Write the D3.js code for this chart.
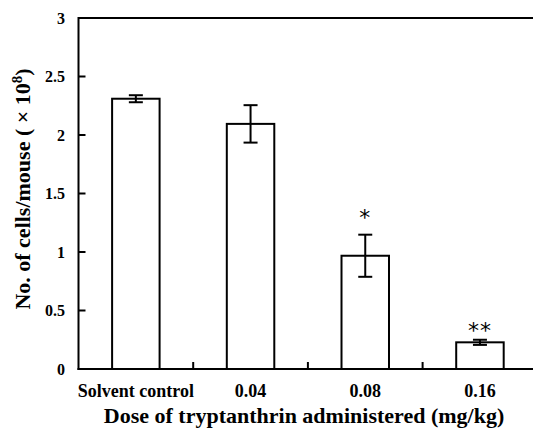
<!DOCTYPE html>
<html><head><meta charset="utf-8">
<script src="https://cdn.jsdelivr.net/npm/d3@7"></script>
<style>body{margin:0;background:#fff}svg{display:block}</style>
</head><body>
<svg id="c" width="533" height="430"></svg>
<script>
const categories = ["Solvent control", "0.04", "0.08", "0.16"];
const values = [2.31, 2.095, 0.968, 0.228];
const errors = [0.03, 0.16, 0.18, 0.022];
const marks = ["", "", "*", "**"];
const markLevels = [null, null, 1.35, 0.38];
const yTicks = [0, 0.5, 1, 1.5, 2, 2.5, 3];
const yTickLabels = ["0", "0.5", "1", "1.5", "2", "2.5", "3"];

const svg = d3.select("#c");
const L = 78.5, R = 537.3, T = 18, B = 369;
const x = d3.scaleBand().domain(categories).range([L, R]).padding(0);
const y = d3.scaleLinear().domain([0, 3]).range([B, T]);
const bw = x.bandwidth() * 0.414;
const font = "'Liberation Serif','Times New Roman',serif";

// frame
svg.append("line").attr("x1", L).attr("x2", 540).attr("y1", T).attr("y2", T).attr("stroke", "#000").attr("stroke-width", 2);
svg.append("line").attr("x1", L).attr("x2", L).attr("y1", T - 1).attr("y2", B + 1).attr("stroke", "#000").attr("stroke-width", 2);
svg.append("line").attr("x1", L - 1).attr("x2", 540).attr("y1", B).attr("y2", B).attr("stroke", "#000").attr("stroke-width", 2);

// y ticks
const yg = svg.append("g");
yTicks.forEach((t, i) => {
  if (t > 0 && t < 3) yg.append("line").attr("x1", L).attr("x2", L + 7).attr("y1", y(t)).attr("y2", y(t)).attr("stroke", "#000").attr("stroke-width", 2);
  yg.append("text").attr("x", 65).attr("y", y(t)).attr("dy", "0.35em").attr("text-anchor", "end")
    .attr("font-family", font).attr("font-weight", "bold").attr("font-size", 16).text(yTickLabels[i]);
});

// x ticks between categories
categories.slice(1).forEach(c => {
  svg.append("line").attr("x1", x(c)).attr("x2", x(c)).attr("y1", B).attr("y2", B - 7).attr("stroke", "#000").attr("stroke-width", 2);
});

// bars
categories.forEach((c, i) => {
  const cx = x(c) + x.bandwidth() / 2;
  svg.append("rect").attr("x", cx - bw / 2).attr("y", y(values[i])).attr("width", bw).attr("height", B - y(values[i]))
    .attr("fill", "#fff").attr("stroke", "#000").attr("stroke-width", 2);
  const hi = y(values[i] + errors[i]), lo = y(values[i] - errors[i]);
  svg.append("line").attr("x1", cx).attr("x2", cx).attr("y1", hi).attr("y2", lo).attr("stroke", "#000").attr("stroke-width", 2);
  [hi, lo].forEach(v => svg.append("line").attr("x1", cx - 7).attr("x2", cx + 7).attr("y1", v).attr("y2", v).attr("stroke", "#000").attr("stroke-width", 2));
  if (marks[i]) svg.append("text").attr("x", cx).attr("y", y(markLevels[i])).attr("dy", "0.62em").attr("text-anchor", "middle")
    .attr("font-family", "'DejaVu Sans',sans-serif").attr("font-size", 22).attr("letter-spacing", 1).text(marks[i]);
  svg.append("text").attr("x", cx).attr("y", 397).attr("text-anchor", "middle")
    .attr("font-family", font).attr("font-weight", "bold").attr("font-size", 18).text(c);
});

// axis titles
svg.append("text").attr("x", 304).attr("y", 423).attr("text-anchor", "middle")
  .attr("font-family", font).attr("font-weight", "bold").attr("font-size", 22).text("Dose of tryptanthrin administered (mg/kg)");
const yt = svg.append("text").attr("transform", "translate(30,189) rotate(-90)").attr("text-anchor", "middle")
  .attr("font-family", font).attr("font-weight", "bold").attr("font-size", 22);
yt.append("tspan").text("No. of cells/mouse ( \u00d7 10");
yt.append("tspan").attr("dy", -8).attr("font-size", 15).text("8");
yt.append("tspan").attr("dy", 8).text(")");
</script>
</body></html>
